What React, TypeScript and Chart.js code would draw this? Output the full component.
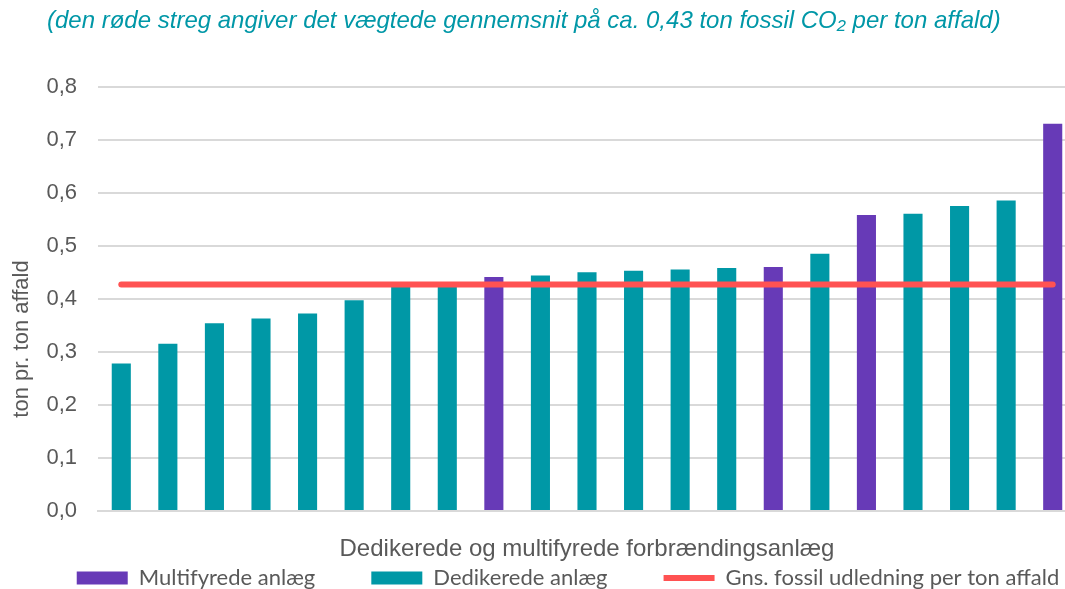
import React, { useEffect, useRef } from 'react';
import { Chart, registerables } from 'chart.js';

Chart.register(...registerables);

// ---- data ----
const categories = ['1', '2', '3', '4', '5', '6', '7', '8', '9', '10', '11', '12', '13', '14', '15', '16', '17', '18', '19', '20', '21'];
const multifyredeValues = [null, null, null, null, null, null, null, null, 0.441, null, null, null, null, null, 0.46, null, 0.558, null, null, null, 0.73];
const dedikeredeValues = [0.278, 0.315, 0.354, 0.363, 0.372, 0.397, 0.423, 0.423, null, 0.444, 0.45, 0.453, 0.455, 0.458, null, 0.485, null, 0.56, 0.575, 0.585, null];
const averageValue = 0.427;
const yTickLabels = ['0,0', '0,1', '0,2', '0,3', '0,4', '0,5', '0,6', '0,7', '0,8'];
const seriesNames = ['Multifyrede anlæg', 'Dedikerede anlæg', 'Gns. fossil udledning per ton affald'];
const titleText = '(den røde streg angiver det vægtede gennemsnit på ca. 0,43 ton fossil CO₂ per ton affald)';
const xTitleText = 'Dedikerede og multifyrede forbrændingsanlæg';
const yTitleText = 'ton pr. ton affald';

const PURPLE = '#673AB7';
const TEAL = '#0098A6';
const RED = '#FF5252';
const GREY_TEXT = '#595959';
const GRID = '#D9D9D9';

const textPlugin = {
  id: 'customTexts',
  afterDraw(chart: any) {
    const ctx = chart.ctx;
    ctx.save();
    ctx.fillStyle = '#0097A7';
    ctx.font = 'italic 24px "Liberation Sans", Arial, sans-serif';
    ctx.textBaseline = 'middle';
    ctx.textAlign = 'left';
    ctx.fillText(titleText, 47, 21);
    ctx.restore();

    ctx.save();
    ctx.fillStyle = GREY_TEXT;
    ctx.font = '22px "Liberation Sans", Arial, sans-serif';
    ctx.textBaseline = 'middle';
    ctx.textAlign = 'center';
    ctx.translate(22, 339);
    ctx.rotate(-Math.PI / 2);
    ctx.fillText(yTitleText, 0, 0);
    ctx.restore();
  },
};

export default function App() {
  const canvasRef = useRef<HTMLCanvasElement | null>(null);

  useEffect(() => {
    if (!canvasRef.current) return;
    const chart = new Chart(canvasRef.current, {
      type: 'bar',
      data: {
        labels: categories,
        datasets: [
          {
            type: 'bar',
            label: seriesNames[0],
            data: multifyredeValues,
            backgroundColor: PURPLE,
            borderWidth: 0,
            grouped: false,
            barPercentage: 0.41,
            categoryPercentage: 1,
            order: 1,
            pointStyle: 'rect',
          } as any,
          {
            type: 'bar',
            label: seriesNames[1],
            data: dedikeredeValues,
            backgroundColor: TEAL,
            borderWidth: 0,
            grouped: false,
            barPercentage: 0.41,
            categoryPercentage: 1,
            order: 1,
            pointStyle: 'rect',
          } as any,
          {
            type: 'line',
            label: seriesNames[2],
            data: categories.map(() => averageValue),
            borderColor: RED,
            backgroundColor: RED,
            borderWidth: 6,
            borderCapStyle: 'round',
            pointRadius: 0,
            pointHoverRadius: 0,
            pointStyle: 'line',
            pointBorderColor: RED,
            pointBorderWidth: 6,
            order: 0,
          } as any,
        ],
      },
      options: {
        animation: false,
        responsive: false,
        devicePixelRatio: 1,
        layout: { padding: { left: 0, right: 0, top: 86.5, bottom: 0 } },
        plugins: {
          title: { display: false },
          tooltip: { enabled: false },
          legend: {
            display: true,
            position: 'bottom',
            labels: {
              usePointStyle: true,
              pointStyleWidth: 51,
              boxHeight: 13,
              padding: 56,
              color: GREY_TEXT,
              font: { family: 'Lato, "Open Sans", sans-serif', size: 22 },
              sort: (a: any, b: any) => a.datasetIndex - b.datasetIndex,
            },
          },
        },
        scales: {
          x: {
            grid: { display: false },
            border: { display: true, color: GRID, width: 2 },
            ticks: { display: false },
            title: {
              display: true,
              text: xTitleText,
              color: GREY_TEXT,
              font: { family: '"Liberation Sans", Arial, sans-serif', size: 24 },
              padding: { top: 0, bottom: -52.5 },
            },
            afterFit: (scale: any) => {
              scale.height = 0;
            },
          },
          y: {
            min: 0,
            max: 0.8,
            grid: { color: GRID, lineWidth: 2, drawTicks: false },
            border: { display: false },
            ticks: {
              stepSize: 0.1,
              padding: 21,
              color: GREY_TEXT,
              font: { family: '"Liberation Sans", Arial, sans-serif', size: 22 },
              callback: (_v: any, index: number) => yTickLabels[index],
            },
            afterFit: (scale: any) => {
              scale.width = 98;
            },
          },
          yRight: {
            position: 'right',
            display: true,
            min: 0,
            max: 0.8,
            grid: { display: false, drawOnChartArea: false },
            border: { display: false },
            ticks: { display: false },
            afterFit: (scale: any) => {
              scale.width = 60;
            },
          },
        },
      },
      plugins: [textPlugin],
    } as any);
    return () => chart.destroy();
  }, []);

  return (
    <div style={{ position: 'fixed', left: 0, top: 0, width: 1065, height: 589, overflow: 'hidden', background: '#ffffff' }}>
      <canvas ref={canvasRef} width={1136} height={599} style={{ display: 'block' }} />
    </div>
  );
}
